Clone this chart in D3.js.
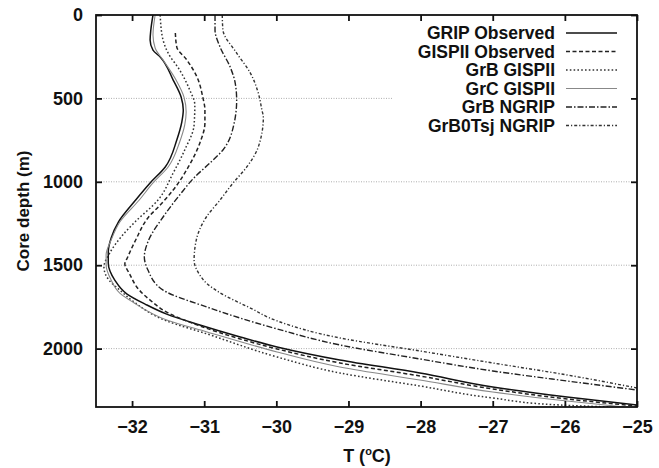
<!DOCTYPE html>
<html><head><meta charset="utf-8">
<script src="https://cdn.jsdelivr.net/npm/d3@7"></script>
<style>body{margin:0;background:#fff}svg{display:block}text{font-family:"Liberation Sans",Arial,sans-serif;font-weight:bold;fill:#111}</style>
</head><body><svg id="c" width="659" height="468"></svg>
<script>
const tempTicks = [-32,-31,-30,-29,-28,-27,-26,-25];
const depthTicks = [0,500,1000,1500,2000];
const seriesNames = ["GRIP Observed","GISPII Observed","GrB GISPII","GrC GISPII","GrB NGRIP","GrB0Tsj NGRIP"];

const gripObsT = [-31.71,-31.74,-31.75,-31.71,-31.61,-31.43,-31.32,-31.29,-31.31,-31.38,-31.54,-31.75,-31.95,-32.19,-32.29,-32.33,-32.33,-32.24,-32.07,-31.82,-31.52,-31.06,-30.50,-29.99,-29.12,-28.01,-27.00,-25.97,-25.00];
const gripObsD = [0,90,150,210,252,390,492,570,641,749,911,1007,1109,1241,1337,1421,1487,1589,1673,1733,1793,1858,1930,1990,2068,2146,2230,2290,2338];

const gispObsT = [-31.40,-31.38,-31.24,-31.10,-31.02,-30.99,-30.99,-31.06,-31.22,-31.43,-31.61,-31.77,-31.95,-32.06,-32.10,-32.04,-31.90,-31.75,-31.52,-31.06,-30.50,-29.99,-29.12,-28.01,-27.00,-25.97,-25.00];
const gispObsD = [108,192,270,372,492,570,647,767,911,1049,1139,1211,1349,1451,1493,1547,1649,1709,1781,1864,1942,2002,2086,2164,2242,2302,2344];

const grbGispT = [-31.61,-31.58,-31.50,-31.34,-31.20,-31.13,-31.14,-31.27,-31.43,-31.64,-31.96,-32.13,-32.31,-32.39,-32.32,-32.17,-31.99,-31.52,-30.96,-29.99,-29.12,-28.01,-27.00,-26.07,-25.37];
const grbGispD = [0,132,228,330,450,540,659,809,947,1109,1241,1319,1427,1511,1589,1649,1715,1834,1912,2050,2146,2224,2296,2338,2350];

const grcGispT = [-31.68,-31.71,-31.68,-31.57,-31.39,-31.28,-31.25,-31.27,-31.34,-31.50,-31.71,-31.90,-32.17,-32.29,-32.36,-32.36,-32.29,-32.17,-31.99,-31.52,-30.96,-29.99,-29.12,-28.01,-27.00,-25.97,-25.17];
const grcGispD = [0,120,198,270,390,492,582,659,761,911,1007,1109,1241,1349,1439,1499,1589,1667,1721,1828,1900,2020,2110,2188,2260,2314,2350];

const grbNgripT = [-30.85,-30.85,-30.78,-30.64,-30.57,-30.55,-30.59,-30.74,-30.92,-31.13,-31.34,-31.57,-31.77,-31.83,-31.78,-31.57,-30.96,-29.99,-29.12,-28.01,-27.00,-25.97,-25.00];
const grbNgripD = [0,90,192,312,408,510,659,809,887,971,1079,1211,1349,1451,1529,1649,1751,1882,1978,2062,2134,2194,2248];

const grb0NgripT = [-30.75,-30.74,-30.55,-30.36,-30.25,-30.20,-30.18,-30.25,-30.41,-30.60,-30.78,-30.97,-31.11,-31.14,-31.06,-30.97,-30.82,-30.36,-29.99,-29.12,-28.01,-27.00,-25.97,-25.00];
const grb0NgripD = [0,90,228,348,468,570,612,791,911,1007,1109,1211,1349,1469,1559,1607,1655,1757,1834,1936,2014,2086,2158,2236];

const seriesData = [
  [gripObsT, gripObsD],[gispObsT, gispObsD],[grbGispT, grbGispD],
  [grcGispT, grcGispD],[grbNgripT, grbNgripD],[grb0NgripT, grb0NgripD]
];
const styles = [
  {stroke:"#111", w:1.5, dash:null},
  {stroke:"#222", w:1.5, dash:"4,2.5"},
  {stroke:"#333", w:1.5, dash:"1.6,2.2"},
  {stroke:"#888", w:1.1, dash:null},
  {stroke:"#222", w:1.4, dash:"6,2,1.5,2"},
  {stroke:"#333", w:1.4, dash:"3,2,1.2,2"}
];

const L=96,R=637,T=15,B=407;
const svg = d3.select("#c");
const x = d3.scaleLinear().domain([-32.5,-25]).range([L,R]);
const y = d3.scaleLinear().domain([0,2350]).range([T,B]);

// grid
const grid = svg.append("g").attr("stroke","#999").attr("stroke-width",0.8).attr("stroke-dasharray","1,1.5");
tempTicks.filter(t=>t>-25).forEach(t=>{
  grid.append("line").attr("x1",x(t)).attr("x2",x(t)).attr("y1",T).attr("y2",B);
});
depthTicks.filter(d=>d>0).forEach(d=>{
  grid.append("line").attr("x1",L).attr("x2",R).attr("y1",y(d)).attr("y2",y(d));
});
// legend blank box
svg.append("rect").attr("x",392).attr("y",T+1).attr("width",R-392-1).attr("height",133-T).attr("fill","#fff");

// clip
svg.append("clipPath").attr("id","clip").append("rect").attr("x",L).attr("y",T).attr("width",R-L).attr("height",B-T);

const line = d3.line().x(p=>x(p[0])).y(p=>y(p[1])).curve(d3.curveMonotoneY);
const curves = svg.append("g").attr("clip-path","url(#clip)").attr("fill","none");
seriesData.forEach((s,i)=>{
  const pts = s[0].map((t,j)=>[t,s[1][j]]);
  curves.append("path").attr("d",line(pts)).attr("stroke",styles[i].stroke)
    .attr("stroke-width",styles[i].w).attr("stroke-dasharray",styles[i].dash);
});

// frame
svg.append("rect").attr("x",L).attr("y",T).attr("width",R-L).attr("height",B-T)
  .attr("fill","none").attr("stroke","#111").attr("stroke-width",1.8);

// axes with inward ticks
const axBottom = d3.axisBottom(x).tickValues(tempTicks).tickSize(-6).tickPadding(13).tickFormat(d3.format("d"));
const axTop = d3.axisTop(x).tickValues(tempTicks).tickSize(-6).tickFormat("");
const axLeft = d3.axisLeft(y).tickValues(depthTicks).tickSize(-6).tickPadding(13).tickFormat(d3.format("d"));
const axRight = d3.axisRight(y).tickValues(depthTicks).tickSize(-6).tickFormat("");
[[axBottom,`translate(0,${B})`],[axTop,`translate(0,${T})`],[axLeft,`translate(${L},0)`],[axRight,`translate(${R},0)`]].forEach(([a,tr])=>{
  const g = svg.append("g").attr("transform",tr).call(a);
  g.select(".domain").remove();
  g.selectAll(".tick line").attr("stroke","#111").attr("stroke-width",1.8);
  g.selectAll(".tick text").attr("font-size",18).attr("font-weight","bold").attr("font-family","Liberation Sans, Arial, sans-serif").attr("fill","#111");
});

// axis titles
svg.append("text").attr("transform","translate(29,211) rotate(-90)").attr("text-anchor","middle")
  .attr("font-size",17).text("Core depth (m)");
const xt = svg.append("text").attr("x",367).attr("y",462).attr("text-anchor","middle").attr("font-size",18);
xt.append("tspan").text("T (");
xt.append("tspan").attr("font-size",11).attr("dy",-7).text("o");
xt.append("tspan").attr("dy",7).text("C)");

// legend
const lg = svg.append("g");
seriesNames.forEach((n,i)=>{
  const yy = 33 + i*18.5;
  lg.append("text").attr("x",555).attr("y",yy).attr("dy","0.35em").attr("text-anchor","end")
    .attr("font-size",17.5).text(n);
  lg.append("line").attr("x1",566).attr("x2",617).attr("y1",yy).attr("y2",yy)
    .attr("stroke",styles[i].stroke).attr("stroke-width",styles[i].w).attr("stroke-dasharray",styles[i].dash);
});
</script></body></html>
